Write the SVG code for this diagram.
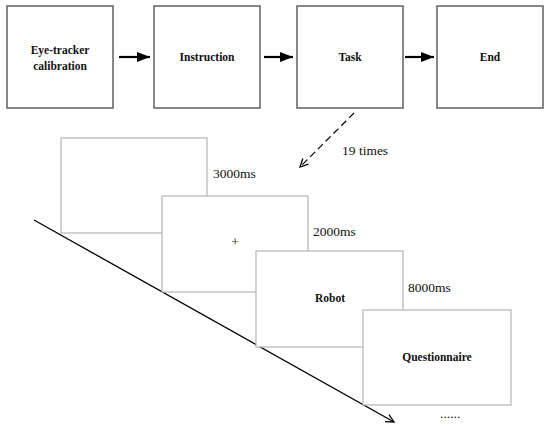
<svg xmlns="http://www.w3.org/2000/svg" width="550" height="431" viewBox="0 0 550 431">
<style>
.box{fill:#fff;stroke:#555;stroke-width:1.4}
.slide{fill:#fff;stroke:#b4b4b4;stroke-width:1.2}
.lbl{font-family:'Liberation Serif','Times New Roman','DejaVu Serif',serif;font-weight:bold;font-size:11.5px;fill:#111;text-anchor:middle}
.t{font-family:'Liberation Serif','Times New Roman','DejaVu Serif',serif;font-size:13.5px;fill:#111}
</style>
<defs>
<marker id="ah" markerWidth="13" markerHeight="10" refX="13" refY="5" orient="auto" markerUnits="userSpaceOnUse">
<path d="M0,0 L13,5 L0,10 Z" fill="#000"/>
</marker>
<marker id="open" markerWidth="10" markerHeight="10" refX="9" refY="5" orient="auto" markerUnits="userSpaceOnUse">
<path d="M1,1 L9,5 L1,9" fill="none" stroke="#000" stroke-width="1.3"/>
</marker>
</defs>
<g id="calibration"><rect class="box" x="7" y="6" width="106" height="102"/><text class="lbl" x="60" y="54">Eye-tracker</text><text class="lbl" x="60" y="70">calibration</text></g>
<g id="instruction"><rect class="box" x="154" y="6" width="106" height="102"/><text class="lbl" x="207" y="61">Instruction</text></g>
<g id="task"><rect class="box" x="297" y="6" width="106" height="102"/><text class="lbl" x="350" y="61">Task</text></g>
<g id="end"><rect class="box" x="437" y="6" width="106" height="102"/><text class="lbl" x="490" y="61">End</text></g>
<g id="connectors">
<line x1="119" y1="57" x2="150" y2="57" stroke="#000" stroke-width="2.2" marker-end="url(#ah)"/>
<line x1="264" y1="57" x2="293" y2="57" stroke="#000" stroke-width="2.2" marker-end="url(#ah)"/>
<line x1="405" y1="57" x2="434" y2="57" stroke="#000" stroke-width="2.2" marker-end="url(#ah)"/>
<line x1="354" y1="113" x2="300" y2="167" stroke="#000" stroke-width="1.2" stroke-dasharray="7,4" marker-end="url(#open)"/>
<line x1="34" y1="220" x2="394" y2="422" stroke="#000" stroke-width="1.3" marker-end="url(#open)"/>
</g>
<text class="t" x="342" y="155">19 times</text>
<g id="slide1"><rect class="slide" x="61" y="138" width="146" height="95"/></g>
<text class="t" x="213" y="178">3000ms</text>
<g id="slide2"><rect class="slide" x="162" y="196" width="146" height="96"/><text class="t" x="235" y="246" font-size="11px" text-anchor="middle">+</text></g>
<text class="t" x="313" y="236">2000ms</text>
<g id="slide3"><rect class="slide" x="256" y="251" width="147" height="96"/><text class="lbl" x="330" y="302">Robot</text></g>
<text class="t" x="408" y="292">8000ms</text>
<g id="slide4"><rect class="slide" x="363" y="310" width="148" height="95"/><text class="lbl" x="437" y="361">Questionnaire</text></g>
<text class="t" x="440" y="418">......</text>
</svg>
